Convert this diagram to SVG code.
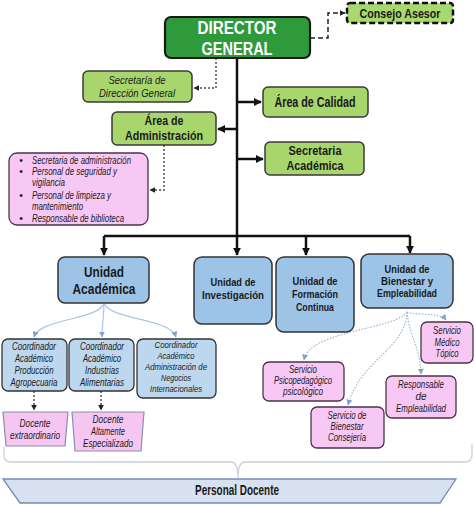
<svg xmlns="http://www.w3.org/2000/svg" width="474" height="506" viewBox="0 0 474 506">
<defs>
<style>
text{font-family:"Liberation Sans",Arial,sans-serif;text-anchor:middle;fill:#1a1a1a}
.b{font-weight:bold}
.i{font-style:italic}
.s{text-anchor:start}
.g{fill:#A8D56C;stroke:#3a3a3a;stroke-width:1.5}
.u{fill:#9DC3E6;stroke:#333;stroke-width:1.5}
.c{fill:#BDD7EE;stroke:#333;stroke-width:1.3}
.p{fill:#F8C8F5;stroke:#4a3448;stroke-width:1.3}
.t{fill:#F6C6F3;stroke:#8C8FA6;stroke-width:1.2}
.main{fill:none;stroke:#111;stroke-width:2.5}
.dot{fill:none;stroke:#444;stroke-width:1.4;stroke-dasharray:2 2}
.lb{fill:none;stroke:#A9C6E3;stroke-width:1.2}
.lbd{fill:none;stroke:#9DB9D8;stroke-width:1.2;stroke-dasharray:1.5 1.5}
</style>
<marker id="ah" viewBox="0 0 10 10" refX="9" refY="5" markerWidth="8" markerHeight="8" markerUnits="userSpaceOnUse" orient="auto"><path d="M0,0 L10,5 L0,10 z" fill="#111"/></marker>
<marker id="ahs" viewBox="0 0 10 10" refX="9" refY="5" markerWidth="6" markerHeight="6" markerUnits="userSpaceOnUse" orient="auto"><path d="M0,0 L10,5 L0,10 z" fill="#222"/></marker>
<marker id="ahb" viewBox="0 0 10 10" refX="9" refY="5" markerWidth="6" markerHeight="6" markerUnits="userSpaceOnUse" orient="auto"><path d="M0,0 L10,5 L0,10 z" fill="#7FA3CC"/></marker>
</defs>

<g id="connectors">
<path class="main" d="M237,58 V236"/>
<path class="main" d="M237,102 H261" marker-end="url(#ah)"/>
<path class="main" d="M237,129 H218" marker-end="url(#ah)"/>
<path class="main" d="M237,159 H263" marker-end="url(#ah)"/>
<path class="main" d="M104,236 H410"/>
<path class="main" d="M104,236 V255" marker-end="url(#ah)"/>
<path class="main" d="M237,236 V255" marker-end="url(#ah)"/>
<path class="main" d="M306,236 V255" marker-end="url(#ah)"/>
<path class="main" d="M410,236 V253" marker-end="url(#ah)"/>
<path fill="none" stroke="#222" stroke-width="1.5" stroke-dasharray="5 3" d="M310,38 H328 V13 H345" marker-end="url(#ahs)"/>
<path class="dot" d="M216,58 V88 H194" marker-end="url(#ahs)"/>
<path class="dot" d="M164,145 V190 H150" marker-end="url(#ahs)"/>
<path class="dot" d="M34,391 V410" marker-end="url(#ahs)"/>
<path class="dot" d="M101,391 V410" marker-end="url(#ahs)"/>
<path class="lb" d="M104,303 C100,320 40,318 34,337" marker-end="url(#ahb)"/>
<path class="lb" d="M104,303 C104,315 102,325 102,337" marker-end="url(#ahb)"/>
<path class="lb" d="M104,303 C110,320 170,318 176,337" marker-end="url(#ahb)"/>
<path class="lbd" d="M407,312 C420,316 440,312 446,320" marker-end="url(#ahb)"/>
<path class="lbd" d="M407,312 C395,330 310,330 304,360" marker-end="url(#ahb)"/>
<path class="lbd" d="M407,312 C405,350 360,360 348,405" marker-end="url(#ahb)"/>
<path class="lbd" d="M407,312 C410,340 420,345 421,374" marker-end="url(#ahb)"/>
<path fill="none" stroke="#C9D0DA" stroke-width="1.3" d="M4,447 V456 Q4,462 12,462 H231 Q238,462 238,478 Q238,462 245,462 H464 Q472,462 472,455 V444"/>
</g>

<g id="director-general">
<rect x="165" y="17" width="145" height="41" rx="6" fill="#2E9A3C" stroke="#1a1a1a" stroke-width="2.2"/>
<text x="237" y="34" class="b" font-size="18" style="fill:#fff" textLength="79" lengthAdjust="spacingAndGlyphs">DIRECTOR</text>
<text x="237" y="55" class="b" font-size="18" style="fill:#fff" textLength="71" lengthAdjust="spacingAndGlyphs">GENERAL</text>
</g>

<g id="consejo-asesor">
<rect x="347" y="3" width="106" height="20" rx="3" fill="#A8D86E" stroke="#111" stroke-width="2.5" stroke-dasharray="6 3"/>
<text x="400" y="17.5" class="b" font-size="13" textLength="81" lengthAdjust="spacingAndGlyphs">Consejo Asesor</text>
</g>

<g id="secretaria-direccion">
<rect x="83" y="71" width="109" height="31" rx="5" class="g"/>
<text x="137" y="84" class="i" font-size="11" textLength="57" lengthAdjust="spacingAndGlyphs">Secretaría de</text>
<text x="137" y="97" class="i" font-size="11" textLength="76" lengthAdjust="spacingAndGlyphs">Dirección General</text>
</g>

<g id="area-calidad">
<rect x="263" y="87" width="105" height="30" rx="5" class="g"/>
<text x="315" y="107" class="b" font-size="14" textLength="81" lengthAdjust="spacingAndGlyphs">Área de Calidad</text>
</g>

<g id="area-administracion">
<rect x="112" y="112" width="104" height="33" rx="5" class="g"/>
<text x="164" y="125" class="b" font-size="13.5" textLength="39" lengthAdjust="spacingAndGlyphs">Área de</text>
<text x="164" y="140" class="b" font-size="13.5" textLength="78" lengthAdjust="spacingAndGlyphs">Administración</text>
</g>

<g id="secretaria-academica">
<rect x="265" y="142" width="99" height="33" rx="5" class="g"/>
<text x="315" y="155" class="b" font-size="13.5" textLength="53" lengthAdjust="spacingAndGlyphs">Secretaria</text>
<text x="315" y="170" class="b" font-size="13.5" textLength="57" lengthAdjust="spacingAndGlyphs">Académica</text>
</g>

<g id="lista-administracion">
<rect x="9" y="153" width="139" height="72" rx="8" class="p"/>
<g font-size="10.5">
<text x="21" y="164">•</text>
<text x="32" y="164" class="i s" textLength="99" lengthAdjust="spacingAndGlyphs">Secretaria de administración</text>
<text x="21" y="175">•</text>
<text x="32" y="175" class="i s" textLength="85" lengthAdjust="spacingAndGlyphs">Personal de seguridad y</text>
<text x="32" y="186" class="i s" textLength="33" lengthAdjust="spacingAndGlyphs">vigilancia</text>
<text x="21" y="199">•</text>
<text x="32" y="199" class="i s" textLength="79" lengthAdjust="spacingAndGlyphs">Personal de limpieza y</text>
<text x="32" y="210" class="i s" textLength="51" lengthAdjust="spacingAndGlyphs">mantenimiento</text>
<text x="21" y="222">•</text>
<text x="32" y="222" class="i s" textLength="92" lengthAdjust="spacingAndGlyphs">Responsable de biblioteca</text>
</g>
</g>

<g id="unidad-academica">
<rect x="58" y="257" width="91" height="46" rx="7" class="u"/>
<text x="104" y="277" class="b" font-size="14" textLength="40" lengthAdjust="spacingAndGlyphs">Unidad</text>
<text x="104" y="294" class="b" font-size="14" textLength="63" lengthAdjust="spacingAndGlyphs">Académica</text>
</g>

<g id="unidad-investigacion">
<rect x="194" y="257" width="78" height="67" rx="8" class="u"/>
<text x="233" y="286" class="b" font-size="11" textLength="45" lengthAdjust="spacingAndGlyphs">Unidad de</text>
<text x="233" y="299" class="b" font-size="11" textLength="62" lengthAdjust="spacingAndGlyphs">Investigación</text>
</g>

<g id="unidad-formacion">
<rect x="276" y="257" width="78" height="75" rx="8" class="u"/>
<text x="315" y="285" class="b" font-size="11" textLength="45" lengthAdjust="spacingAndGlyphs">Unidad de</text>
<text x="315" y="298" class="b" font-size="11" textLength="46" lengthAdjust="spacingAndGlyphs">Formación</text>
<text x="315" y="311" class="b" font-size="11" textLength="38" lengthAdjust="spacingAndGlyphs">Continua</text>
</g>

<g id="unidad-bienestar">
<rect x="361" y="254" width="92" height="54" rx="8" class="u"/>
<text x="407" y="273" class="b" font-size="11" textLength="45" lengthAdjust="spacingAndGlyphs">Unidad de</text>
<text x="407" y="285" class="b" font-size="11" textLength="52" lengthAdjust="spacingAndGlyphs">Bienestar y</text>
<text x="407" y="297" class="b" font-size="11" textLength="60" lengthAdjust="spacingAndGlyphs">Empleabilidad</text>
</g>

<g id="coord-produccion">
<rect x="2" y="339" width="65" height="52" rx="6" class="c"/>
<g class="i" font-size="10">
<text x="34" y="350" textLength="44" lengthAdjust="spacingAndGlyphs">Coordinador</text>
<text x="34" y="362" textLength="38" lengthAdjust="spacingAndGlyphs">Académico</text>
<text x="34" y="374" textLength="39" lengthAdjust="spacingAndGlyphs">Producción</text>
<text x="34" y="386" textLength="47" lengthAdjust="spacingAndGlyphs">Agropecuaria</text>
</g>
</g>

<g id="coord-industrias">
<rect x="69" y="339" width="65" height="52" rx="6" class="c"/>
<g class="i" font-size="10">
<text x="102" y="350" textLength="44" lengthAdjust="spacingAndGlyphs">Coordinador</text>
<text x="102" y="362" textLength="38" lengthAdjust="spacingAndGlyphs">Académico</text>
<text x="102" y="374" textLength="34" lengthAdjust="spacingAndGlyphs">Industrias</text>
<text x="102" y="386" textLength="44" lengthAdjust="spacingAndGlyphs">Alimentarias</text>
</g>
</g>

<g id="coord-negocios">
<rect x="137" y="339" width="79" height="59" rx="6" class="c"/>
<g class="i" font-size="9.5">
<text x="176" y="348" textLength="43" lengthAdjust="spacingAndGlyphs">Coordinador</text>
<text x="176" y="359" textLength="37" lengthAdjust="spacingAndGlyphs">Académico</text>
<text x="176" y="370" textLength="62" lengthAdjust="spacingAndGlyphs">Administración de</text>
<text x="176" y="381" textLength="30" lengthAdjust="spacingAndGlyphs">Negocios</text>
<text x="176" y="392" textLength="52" lengthAdjust="spacingAndGlyphs">Internacionales</text>
</g>
</g>

<g id="docente-extraordinario">
<path d="M3,412 H68 L65,446 H6 Z" class="t"/>
<text x="35" y="427" class="i" font-size="10.5" textLength="31" lengthAdjust="spacingAndGlyphs">Docente</text>
<text x="35" y="439" class="i" font-size="10.5" textLength="50" lengthAdjust="spacingAndGlyphs">extraordinario</text>
</g>

<g id="docente-especializado">
<path d="M72,412 H144 L141,451 H75 Z" class="t"/>
<text x="108" y="423" class="i" font-size="10.5" textLength="31" lengthAdjust="spacingAndGlyphs">Docente</text>
<text x="108" y="435" class="i" font-size="10.5" textLength="34" lengthAdjust="spacingAndGlyphs">Altamente</text>
<text x="108" y="447" class="i" font-size="10.5" textLength="50" lengthAdjust="spacingAndGlyphs">Especializado</text>
</g>

<g id="servicio-medico">
<rect x="421" y="322" width="52" height="41" rx="6" class="p"/>
<g class="i" font-size="10">
<text x="447" y="334" textLength="28" lengthAdjust="spacingAndGlyphs">Servicio</text>
<text x="447" y="346" textLength="25" lengthAdjust="spacingAndGlyphs">Médico</text>
<text x="447" y="357" textLength="23" lengthAdjust="spacingAndGlyphs">Tópico</text>
</g>
</g>

<g id="servicio-psicopedagogico">
<rect x="263" y="362" width="81" height="39" rx="6" class="p"/>
<g class="i" font-size="10">
<text x="303" y="373" textLength="28" lengthAdjust="spacingAndGlyphs">Servicio</text>
<text x="303" y="384" textLength="58" lengthAdjust="spacingAndGlyphs">Psicopedagógico</text>
<text x="303" y="395" textLength="40" lengthAdjust="spacingAndGlyphs">psicológico</text>
</g>
</g>

<g id="responsable-empleabilidad">
<rect x="386" y="376" width="70" height="42" rx="6" class="p"/>
<g class="i" font-size="10">
<text x="421" y="388" textLength="46" lengthAdjust="spacingAndGlyphs">Responsable</text>
<text x="421" y="400">de</text>
<text x="421" y="412" textLength="50" lengthAdjust="spacingAndGlyphs">Empleabilidad</text>
</g>
</g>

<g id="servicio-bienestar">
<rect x="311" y="407" width="73" height="41" rx="6" class="p"/>
<g class="i" font-size="10">
<text x="347" y="419" textLength="39" lengthAdjust="spacingAndGlyphs">Servicio de</text>
<text x="347" y="430" textLength="33" lengthAdjust="spacingAndGlyphs">Bienestar</text>
<text x="347" y="441" textLength="38" lengthAdjust="spacingAndGlyphs">Consejería</text>
</g>
</g>

<g id="personal-docente">
<path d="M3,479 H456 L440,503 H20 Z" fill="#D8E1F0" stroke="#6F8DB5" stroke-width="1.3"/>
<text x="237" y="495" class="b" font-size="14" textLength="84" lengthAdjust="spacingAndGlyphs">Personal Docente</text>
</g>
</svg>
